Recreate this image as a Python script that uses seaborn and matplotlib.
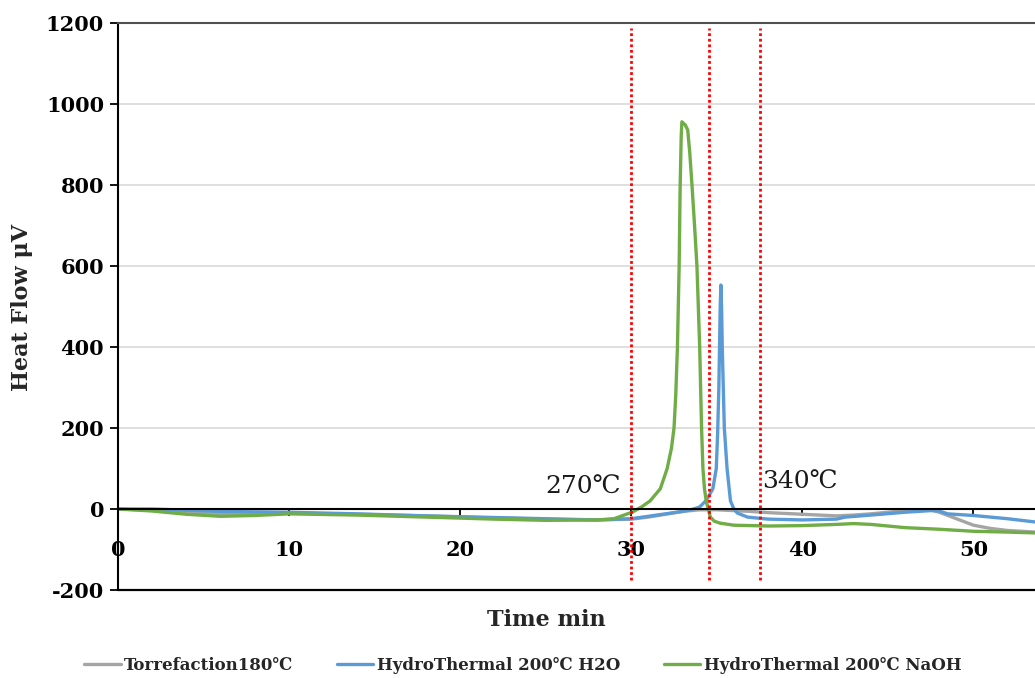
import numpy as np
import pandas as pd
import matplotlib
matplotlib.use("Agg")
import matplotlib.pyplot as plt
import seaborn as sns

# ---------------- data ----------------
series_names = ["Torrefaction180℃", "HydroThermal 200℃ H2O", "HydroThermal 200℃ NaOH"]
series_colors = ["#A5A5A5", "#5B9BD5", "#70AD47"]

torr_t = [0, 2, 4, 6, 8, 10, 14, 18, 22, 26, 28, 30, 31, 32, 33, 34, 35, 36, 37, 38,
          40, 42, 43, 44, 45, 46, 47, 47.5, 48, 48.7, 49.5, 50, 51, 52, 53.6]
torr_v = [0, -3, -8, -11, -11, -10, -13, -17, -22, -26, -27, -25, -20, -13, -6, -2, -2, -4, -6, -9,
          -13, -17, -15, -12, -8, -4, -2, -2, -8, -19, -32, -40, -48, -53, -57]

h2o_t = [0, 2, 4, 6, 8, 10, 14, 18, 22, 26, 28, 30, 31, 32, 33, 33.5, 34, 34.4, 34.77, 34.97,
         35.05, 35.12, 35.16, 35.2, 35.24, 35.28, 35.32, 35.44, 35.6, 35.8, 36.0, 36.2, 36.8,
         37.5, 38, 40, 42, 42.5, 44, 46, 47.5, 48, 48.5, 50, 52, 53.6]
h2o_v = [0, 0, -3, -6, -7, -8, -12, -17, -21, -25, -27, -24, -18, -12, -6, -2, 5, 22, 50, 100,
         187, 300, 400, 500, 553, 500, 400, 200, 100, 20, 0, -10, -20,
         -23, -25, -27, -25, -20, -15, -8, -4, -5, -12, -16, -24, -32]

naoh_t = [0, 2, 4, 6, 8, 10, 14, 18, 22, 25, 28, 29, 30.1, 30.6, 31.1, 31.7, 32.1, 32.35, 32.5,
          32.6, 32.7, 32.8, 32.86, 32.92, 32.96, 33.16, 33.3, 33.42, 33.55, 33.7, 33.84, 34.0,
          34.11, 34.19, 34.28, 34.38, 34.5, 34.62, 34.85, 35.2, 36, 38, 40, 42, 43, 44, 46, 48,
          50, 52, 53.6]
naoh_v = [0, -5, -13, -18, -16, -12, -15, -20, -25, -28, -27, -24, -7, 5, 20, 50, 100, 150, 200,
          280, 400, 600, 800, 920, 956, 948, 936, 880, 800, 700, 600, 400,
          200, 100, 50, 20, 0, -20, -30, -35, -40, -42, -41, -38, -36, -38, -46, -50,
          -55, -57, -59]

x_ticks = [0, 10, 20, 30, 40, 50]
y_ticks = [-200, 0, 200, 400, 600, 800, 1000, 1200]
marker_times = [30.0, 34.55, 37.5]
annotations = [("270℃", 29.4, 37, "right"), ("340℃", 37.65, 50, "left")]

frames = []
for name, t, v in zip(series_names, [torr_t, h2o_t, naoh_t], [torr_v, h2o_v, naoh_v]):
    frames.append(pd.DataFrame({"t": t, "v": v, "series": name}))
df = pd.concat(frames, ignore_index=True)

# ---------------- style ----------------
sns.set_theme(style="white")
plt.rcParams["font.family"] = ["DejaVu Serif", "DejaVu Sans"]
plt.rcParams["axes.unicode_minus"] = False

W, H = 1035, 678
fig = plt.figure(figsize=(W / 100, H / 100), dpi=100)
ax = fig.add_axes([118 / W, 1 - 590 / H, 1 - 118 / W, (590 - 23) / H])

palette = dict(zip(series_names, series_colors))
sns.lineplot(data=df, x="t", y="v", hue="series", hue_order=series_names, palette=palette,
             linewidth=2.4, sort=False, estimator=None, ax=ax)

ax.set_xlim(0, 53.6)
ax.set_ylim(-200, 1200)
ax.set_xticks(x_ticks)
ax.set_yticks(y_ticks)
ax.set_xlabel("")
ax.set_ylabel("")

ax.set_axisbelow(True)
ax.yaxis.grid(True, color="#D9D9D9", linewidth=1.2)
ax.xaxis.grid(False)

for s in ["left", "bottom", "top"]:
    ax.spines[s].set_visible(True)
ax.spines["right"].set_visible(False)
ax.spines["left"].set_color("black")
ax.spines["left"].set_linewidth(1.5)
ax.spines["bottom"].set_position(("data", 0))
ax.spines["bottom"].set_color("black")
ax.spines["bottom"].set_linewidth(1.5)
ax.spines["top"].set_color("#505050")
ax.spines["top"].set_linewidth(1.5)
ax.axhline(-200, color="black", linewidth=1.6, clip_on=False, zorder=3)

ax.tick_params(axis="y", direction="out", length=6, width=1.3, left=True, labelsize=15,
               pad=4, colors="black")
ax.tick_params(axis="x", direction="out", length=5, width=1.3, bottom=True, labelsize=15,
               pad=17, colors="black")
for lbl in ax.get_xticklabels() + ax.get_yticklabels():
    lbl.set_fontweight("bold")

# vertical dotted markers
ax.vlines(marker_times, -175, 1188, colors="#FF0000", linestyles=(0, (1, 1)), linewidth=2, zorder=4)

for txt, x, y, ha in annotations:
    ax.text(x, y, txt, ha=ha, va="baseline", fontsize=18, color="#1a1a1a")

# axis titles
fig.text(22 / W, 1 - 307 / H, "Heat Flow μV", rotation=90, ha="center", va="center",
         fontsize=16, fontweight="bold")
fig.text(546 / W, 1 - 620 / H, "Time min", ha="center", va="center",
         fontsize=16, fontweight="bold")

# legend
handles, labels = ax.get_legend_handles_labels()
ax.get_legend().remove()
leg = fig.legend(handles, labels, loc="center", bbox_to_anchor=(0.505, 1 - 665 / H),
                 ncol=3, frameon=False, handlelength=2.2, handletextpad=0.2,
                 columnspacing=2.6, prop={"weight": "bold", "size": 12})

fig.savefig("out.png", dpi=100)
